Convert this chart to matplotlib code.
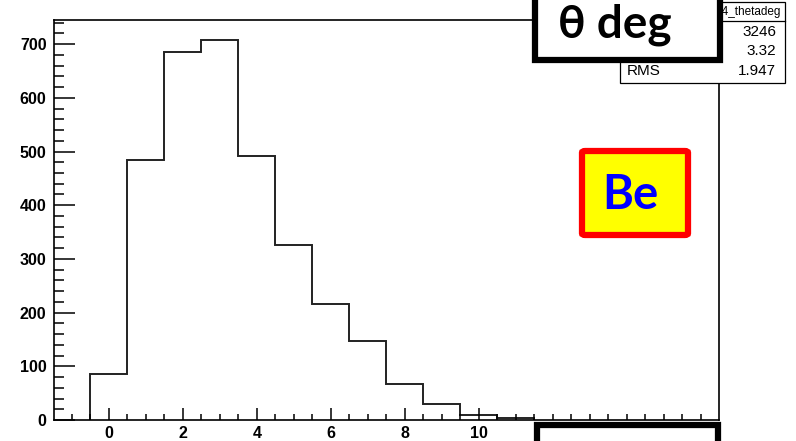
import matplotlib
matplotlib.use("Agg")
import matplotlib.pyplot as plt
from matplotlib.patches import Rectangle, FancyBboxPatch
from matplotlib.ticker import MultipleLocator
from matplotlib.font_manager import FontProperties
import numpy as np

# contenido de los bins (bins de ancho 1 centrados en enteros)
centros = [0, 1, 2, 3, 4, 5, 6, 7, 8, 9, 10, 11]
cuentas = [85, 485, 686, 707, 492, 326, 216, 148, 67, 30, 10, 3]
stats_nombre = "h4_thetadeg"
stats_filas = [("Entries", "3246"), ("Mean", "3.32"), ("RMS", "1.947")]

W, H = 796, 441
fig = plt.figure(figsize=(W / 100, H / 100), dpi=100)
ax = fig.add_axes([53.5 / W, 21 / H, (719 - 53.5) / W, 400 / H])


def px(x, y):
    # pixeles (origen arriba a la izquierda) -> fraccion de figura
    return x / W, 1 - y / H


bordes = np.arange(len(centros) + 1) - 0.5 + centros[0]
ax.stairs(cuentas, bordes, baseline=0, color="#222222", lw=1.4)

ax.set_xlim(-1.5, 16.5)
ax.set_ylim(0, 745)
ax.yaxis.set_major_locator(MultipleLocator(100))
ax.yaxis.set_minor_locator(MultipleLocator(20))
ax.set_xticks([0, 2, 4, 6, 8, 10])
ax.set_xticks(np.arange(-1.0, 16.5, 0.5), minor=True)
for s in ax.spines.values():
    s.set_linewidth(1.2)

fuente_ejes = FontProperties(family="Liberation Sans", weight="bold", size=11.5)
ax.tick_params(axis="x", which="major", direction="in", length=9, width=1.1, pad=4)
ax.tick_params(axis="x", which="minor", direction="in", length=4.5, width=1.1)
ax.tick_params(axis="y", which="major", direction="in", length=15, width=1.1, pad=5)
ax.tick_params(axis="y", which="minor", direction="in", length=7.5, width=1.1)
for lab in ax.get_xticklabels() + ax.get_yticklabels():
    lab.set_fontproperties(fuente_ejes)

# caja de estadisticas estilo ROOT
x0, y0 = px(620, 2)
x1, y1 = px(785, 83)
fig.add_artist(Rectangle((x0, y1), x1 - x0, y0 - y1, transform=fig.transFigure,
                         fc="white", ec="black", lw=0.9, zorder=2))
fig.add_artist(plt.Line2D([x0, x1], [px(0, 21)[1]] * 2, transform=fig.transFigure,
                          color="black", lw=0.9, zorder=2))
fs = dict(family="Liberation Sans", size=11, transform=fig.transFigure, va="center", zorder=3)
fig.text(*px(781, 12), stats_nombre, ha="right", size=8.5, family="Liberation Sans",
         transform=fig.transFigure, va="center", zorder=3)
for (nombre, valor), yy in zip(stats_filas, [32, 51, 71]):
    fig.text(*px(627, yy), nombre, ha="left", **fs)
    fig.text(*px(776, yy), valor, ha="right", **fs)

# recuadro del titulo, por encima de la caja de estadisticas
bx0, by0 = px(535, -10)
bx1, by1 = px(720, 60)
fig.add_artist(Rectangle((bx0, by1), bx1 - bx0, by0 - by1, transform=fig.transFigure,
                         fc="white", ec="black", lw=4.5, zorder=5))
fig.text(*px(614.5, 37), "θ deg", ha="center", va="baseline", transform=fig.transFigure,
         family=["Lato", "DejaVu Sans"], weight="bold", size=33, zorder=6)

# recuadro inferior (vacio)
cx0, cy0 = px(537, 425)
cx1, cy1 = px(718, 460)
fig.add_artist(Rectangle((cx0, cy1), cx1 - cx0, cy0 - cy1, transform=fig.transFigure,
                         fc="white", ec="black", lw=4.5, zorder=5))

# etiqueta del material
ex0, ey0 = px(582, 151)
ex1, ey1 = px(688, 235)
fig.add_artist(FancyBboxPatch((ex0, ey1), ex1 - ex0, ey0 - ey1, transform=fig.transFigure,
                              boxstyle="round,pad=0,rounding_size=0.004",
                              fc="#ffff00", ec="#ff0000", lw=4.5, zorder=5))
fig.text(*px(630, 195), "Be", ha="center", va="center", transform=fig.transFigure,
         family=["Lato", "DejaVu Sans"], weight="bold", color="#0000ff", size=34, zorder=6)

fig.savefig("out.png", dpi=100)
